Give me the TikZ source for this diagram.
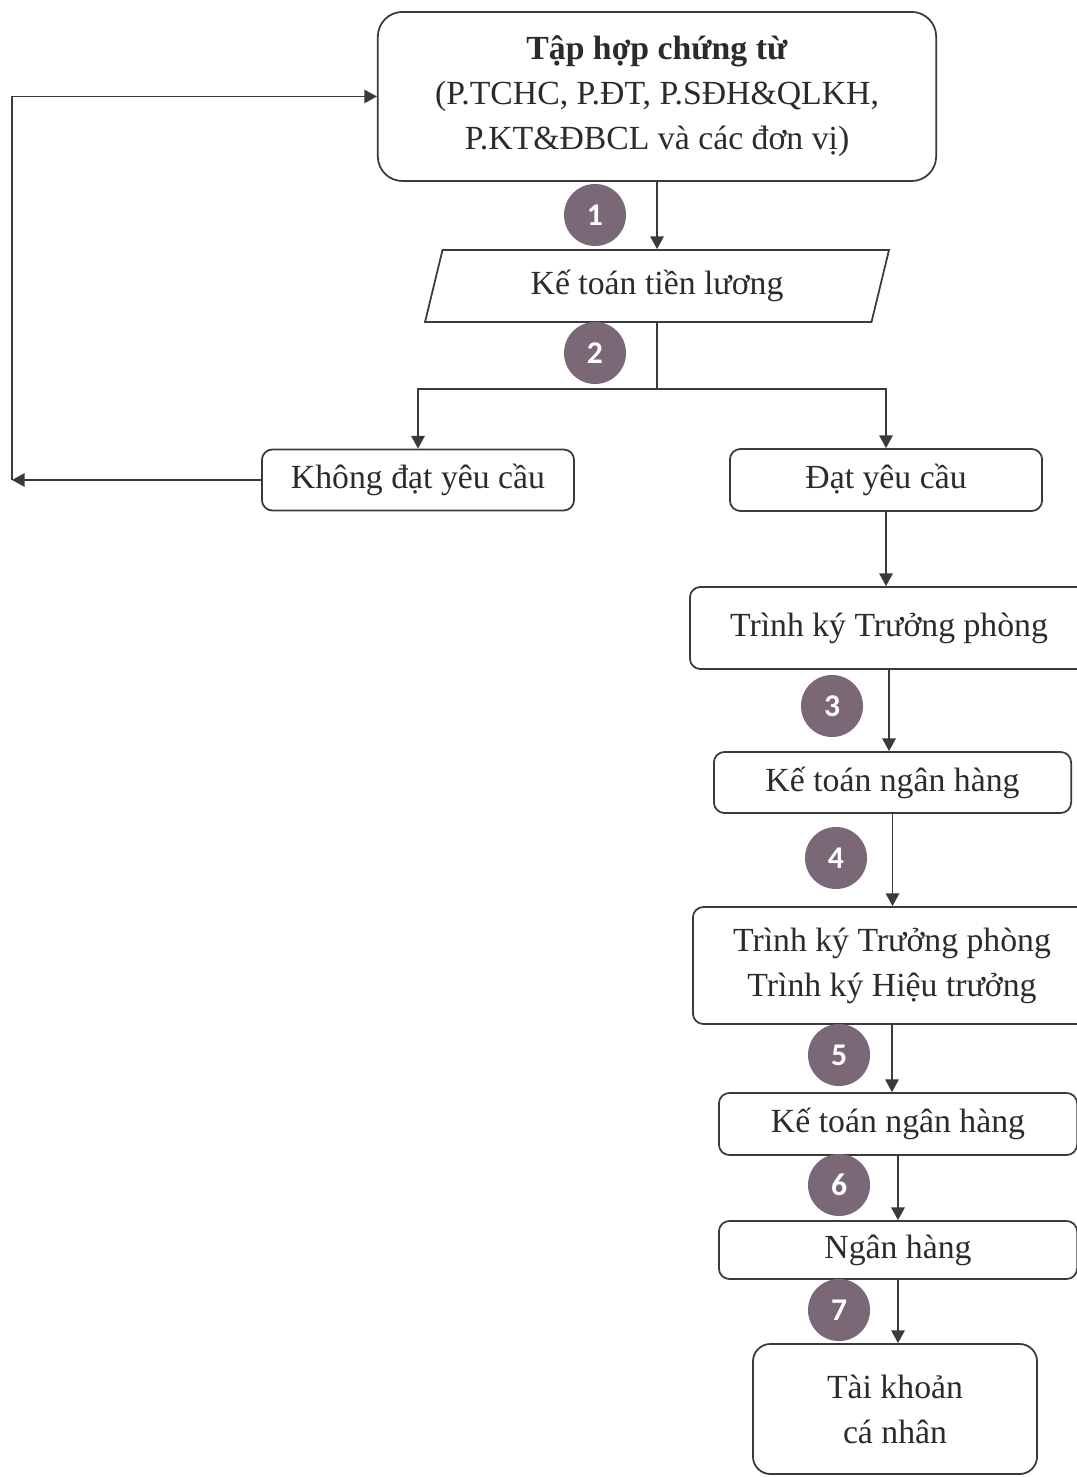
\documentclass[tikz,border=0pt]{standalone}
\usepackage{fontspec}
\setmainfont{Liberation Serif}
\newfontfamily\stepfont{Carlito}
\usetikzlibrary{positioning, arrows.meta, shapes.geometric}
\definecolor{ink}{HTML}{2B2B2B}
\definecolor{wire}{HTML}{3A3A3A}
\definecolor{plum}{HTML}{7A6877}

\begin{document}
\begin{tikzpicture}[x=0.01cm,y=-0.01cm,>={Triangle[length=3.6pt,width=3.8pt]},
  every node/.style={font=\fontsize{9.6}{12.8}\selectfont,text=ink},
  box/.style={draw=wire,line width=0.5pt,rounded corners=3pt,align=center,inner sep=0pt},
  slant/.style={draw=wire,line width=0.5pt,trapezium,trapezium left angle=72,
                trapezium right angle=108,trapezium stretches=true,inner sep=0pt},
  badge/.style={circle,fill=plum,minimum size=0.62cm,inner sep=0pt,text=white,
                font=\stepfont\bfseries\fontsize{9}{9}\selectfont},
  flow/.style={->,draw=wire,line width=0.5pt}]
  \clip (0,0) rectangle (1077,1477);
  % main column
  \node[box,minimum width=5.58cm,minimum height=1.69cm,rounded corners=7pt] (T) at (657,96.5)
    {\textbf{Tập hợp chứng từ}\\(P.TCHC, P.ĐT, P.SĐH\&QLKH,\\P.KT\&ĐBCL và các đơn vị)};
  \node[slant,minimum width=4.66cm,minimum height=0.72cm] (P) at (657,286) {Kế toán tiền lương};
  \node[box,minimum width=3.12cm,minimum height=0.61cm] (K) at (418,480) {Không đạt yêu cầu};
  \node[box,minimum width=3.12cm,minimum height=0.62cm] (D) at (886,480) {Đạt yêu cầu};
  \node[box,minimum width=3.98cm,minimum height=0.82cm] (TP1) at (889,628) {Trình ký Trưởng phòng};
  \node[box,minimum width=3.57cm,minimum height=0.61cm] (KN1) at (892.5,782.5) {Kế toán ngân hàng};
  \node[box,minimum width=3.98cm,minimum height=1.17cm] (TP2) at (892,965.5)
    {Trình ký Trưởng phòng\\Trình ký Hiệu trưởng};
  \node[box,minimum width=3.58cm,minimum height=0.62cm] (KN2) at (898,1124) {Kế toán ngân hàng};
  \node[box,minimum width=3.58cm,minimum height=0.58cm] (NH) at (898,1250) {Ngân hàng};
  \node[box,minimum width=2.84cm,minimum height=1.30cm,rounded corners=5pt] (TK) at (895,1409)
    {Tài khoản\\cá nhân};
  % step numbers
  \node[badge] (s1) at (595,215) {1};
  \node[badge] (s2) at (595,353) {2};
  \node[badge] (s3) at (832,706) {3};
  \node[badge] (s4) at (836,858) {4};
  \node[badge] (s5) at (839,1055) {5};
  \node[badge] (s6) at (839,1185) {6};
  \node[badge] (s7) at (839,1310) {7};
  % connectors
  \coordinate (J) at (657,389);
  \coordinate (L) at (12,480);
  \path (T) edge[flow] (P);
  \draw[wire,line width=0.5pt] (P) -- (J);
  \draw[flow] (J) -| (K);
  \draw[flow] (J) -| (D);
  \draw[flow] (K) -- (L);
  \draw[flow] (L) |- (T);
  \path (D.south) edge[flow] (D.south |- TP1.north)
        (TP1.south) edge[flow] (TP1.south |- KN1.north)
        (KN1.south) edge[flow] (KN1.south |- TP2.north)
        (TP2.south) edge[flow] (TP2.south |- KN2.north)
        (KN2.south) edge[flow] (KN2.south |- NH.north)
        (NH.south) edge[flow] (NH.south |- TK.north);
\end{tikzpicture}
\end{document}
